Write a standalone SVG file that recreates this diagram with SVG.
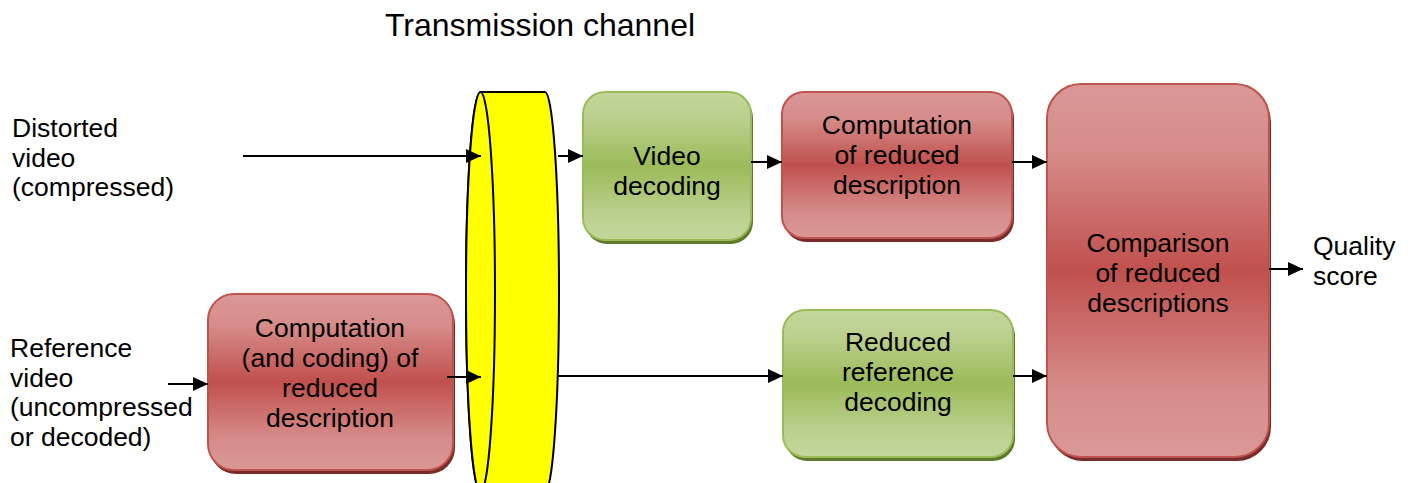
<svg xmlns="http://www.w3.org/2000/svg" width="1413" height="483" viewBox="0 0 1413 483">
  <defs>
    <linearGradient id="redFill" x1="0" y1="0" x2="0" y2="1">
      <stop offset="0" stop-color="#DA9896"/>
      <stop offset="0.18" stop-color="#D68C8A"/>
      <stop offset="0.5" stop-color="#C0504D"/>
      <stop offset="0.82" stop-color="#D68C8A"/>
      <stop offset="1" stop-color="#DA9896"/>
    </linearGradient>
    <linearGradient id="greenFill" x1="0" y1="0" x2="0" y2="1">
      <stop offset="0" stop-color="#C3D69C"/>
      <stop offset="0.18" stop-color="#BBD08E"/>
      <stop offset="0.5" stop-color="#9BBB59"/>
      <stop offset="0.82" stop-color="#BBD08E"/>
      <stop offset="1" stop-color="#C3D69C"/>
    </linearGradient>
    <marker id="arrow" markerUnits="userSpaceOnUse" markerWidth="16" markerHeight="14" refX="15" refY="7" orient="auto">
      <path d="M0,0 L15,7 L0,14 z" fill="#000"/>
    </marker>
  </defs>
  <style>
    text { font-family: "Liberation Sans", Arial, sans-serif; font-size: 26.5px; fill: #000; }
    .mid { text-anchor: middle; }
    .title { font-size: 32px; }
    .red { fill: url(#redFill); stroke: #BE5350; stroke-width: 2; }
    .green { fill: url(#greenFill); stroke: #9BBB59; stroke-width: 2; }
    .shRed { fill: #7A2C2A; }
    .shGreen { fill: #5E7A2C; }
    .conn { stroke: #000; stroke-width: 2; fill: none; marker-end: url(#arrow); }
    .cyl { fill: #FFFF00; stroke: #000; stroke-width: 2; }
  </style>

  <text class="title" x="385" y="36">Transmission channel</text>

  <!-- input / output labels -->
  <g id="label-distorted">
    <text x="12" y="137">Distorted</text>
    <text x="12" y="167">video</text>
    <text x="12" y="196">(compressed)</text>
  </g>
  <g id="label-reference">
    <text x="10" y="357">Reference</text>
    <text x="10" y="387">video</text>
    <text x="10" y="416">(uncompressed</text>
    <text x="10" y="446">or decoded)</text>
  </g>
  <g id="label-quality">
    <text x="1313" y="255">Quality</text>
    <text x="1313" y="285">score</text>
  </g>

  <!-- transmission channel cylinder -->
  <g id="channel">
    <path class="cyl" d="M480.5,92 L545,92 A14,200 0 0 1 545,492 L480.5,492 A14.5,200 0 0 1 480.5,92 Z"/>
    <ellipse class="cyl" cx="480.5" cy="292" rx="14.5" ry="200"/>
  </g>

  <g id="node-video-decoding">
    <rect class="shGreen" x="585" y="96" width="168" height="148" rx="22"/>
    <rect class="green" x="583" y="92" width="168" height="148" rx="22"/>
    <text class="mid" x="667" y="165">Video</text>
    <text class="mid" x="667" y="195">decoding</text>
  </g>

  <g id="node-computation-top">
    <rect class="shRed" x="784" y="96" width="230" height="146" rx="22"/>
    <rect class="red" x="782" y="92" width="230" height="146" rx="22"/>
    <text class="mid" x="897" y="134">Computation</text>
    <text class="mid" x="897" y="164">of reduced</text>
    <text class="mid" x="897" y="194">description</text>
  </g>

  <g id="node-computation-coding">
    <rect class="shRed" x="210" y="298" width="245" height="176" rx="26"/>
    <rect class="red" x="208" y="294" width="245" height="176" rx="26"/>
    <text class="mid" x="330" y="337">Computation</text>
    <text class="mid" x="330" y="367">(and coding) of</text>
    <text class="mid" x="330" y="397">reduced</text>
    <text class="mid" x="330" y="427">description</text>
  </g>

  <g id="node-reduced-reference-decoding">
    <rect class="shGreen" x="785" y="314" width="230" height="147" rx="22"/>
    <rect class="green" x="783" y="310" width="230" height="147" rx="22"/>
    <text class="mid" x="898" y="351">Reduced</text>
    <text class="mid" x="898" y="381">reference</text>
    <text class="mid" x="898" y="411">decoding</text>
  </g>

  <g id="node-comparison">
    <rect class="shRed" x="1049" y="88" width="222" height="373" rx="34"/>
    <rect class="red" x="1047" y="84" width="222" height="373" rx="34"/>
    <text class="mid" x="1158" y="252">Comparison</text>
    <text class="mid" x="1158" y="282">of reduced</text>
    <text class="mid" x="1158" y="312">descriptions</text>
  </g>

  <!-- connectors -->
  <g id="connectors">
    <line class="conn" x1="243" y1="156" x2="481" y2="156"/>
    <line class="conn" x1="558" y1="156" x2="583" y2="156"/>
    <line class="conn" x1="751" y1="162" x2="782" y2="162"/>
    <line class="conn" x1="1012" y1="162" x2="1047" y2="162"/>
    <line class="conn" x1="168" y1="384" x2="208" y2="384"/>
    <line class="conn" x1="447" y1="377" x2="481" y2="377"/>
    <line class="conn" x1="558" y1="376" x2="783" y2="376"/>
    <line class="conn" x1="1013" y1="376" x2="1047" y2="376"/>
    <line class="conn" x1="1269" y1="269" x2="1303" y2="269"/>
  </g>
</svg>
